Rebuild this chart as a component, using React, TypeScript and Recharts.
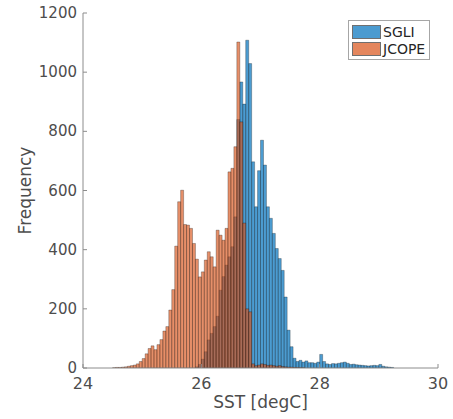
import { Bar, BarChart, Label, Legend, XAxis, YAxis } from "recharts";

// bin centres (degC), 0.05 wide bins
const binCenters = [
  24.525, 24.575, 24.625, 24.675, 24.725, 24.775, 24.825, 24.875, 24.925, 24.975,
  25.025, 25.075, 25.125, 25.175, 25.225, 25.275, 25.325, 25.375, 25.425, 25.475,
  25.525, 25.575, 25.625, 25.675, 25.725, 25.775, 25.825, 25.875, 25.925, 25.975,
  26.025, 26.075, 26.125, 26.175, 26.225, 26.275, 26.325, 26.375, 26.425, 26.475,
  26.525, 26.575, 26.625, 26.675, 26.725, 26.775, 26.825, 26.875, 26.925, 26.975,
  27.025, 27.075, 27.125, 27.175, 27.225, 27.275, 27.325, 27.375, 27.425, 27.475,
  27.525, 27.575, 27.625, 27.675, 27.725, 27.775, 27.825, 27.875, 27.925, 27.975,
  28.025, 28.075, 28.125, 28.175, 28.225, 28.275, 28.325, 28.375, 28.425, 28.475,
  28.525, 28.575, 28.625, 28.675, 28.725, 28.775, 28.825, 28.875, 28.925, 28.975,
  29.025, 29.075, 29.125, 29.175, 29.225,
];

const sgliCounts = [
  null, null, null, null, null, null, null, null, null, null,
  null, null, null, null, null, null, null, null, null, null,
  null, null, null, null, null, null, null, null, 4, 12,
  30, 55, 95, 117, 140, 175, 263, 309, 348, 376,
  410, 511, 840, 967, 892, 1108, 1029, 697, 545, 667,
  770, 686, 545, 506, 455, 404, 370, 330, 240, 128,
  72, 33, 22, 26, 20, 24, 18, 18, 16, 20,
  46, 22, 14, 12, 15, 14, 16, 18, 20, 16,
  12, 13, 11, 10, 9, 8, 7, 8, 9, 8,
  12, 6, 4, 3, 2,
];

const jcopeCounts = [
  1, 2, 2, 3, 4, 6, 8, 10, 14, 22,
  32, 48, 66, 75, 62, 79, 96, 125, 140, 196,
  265, 412, 562, 601, 485, 483, 472, 421, 368, 308,
  325, 365, 393, 376, 342, 466, 449, 432, 472, 663,
  675, 748, 1102, 832, 490, 200, 190, 14, 8, 10,
  14, 12, 9, 10, 8, 6, 8, 5, 4, 3,
  3, 2, 2, 1, 1, null, null, null, null, null,
  null, null, null, null, null, null, null, null, null, null,
  null, null, null, null, null, null, null, null, null, null,
  null, null, null, null, null,
];

const xTicks = [24, 26, 28, 30];
const yTicks = [0, 200, 400, 600, 800, 1000, 1200];

const data = binCenters.map((x, i) => ({ x, sgli: sgliCounts[i], jcope: jcopeCounts[i] }));

const AXIS = "#8c8c8c";
const TEXT = "#4d4d4d";
const FONT = "DejaVu Sans, sans-serif";
const SGLI_COLOR = "#0072bd";
const JCOPE_COLOR = "#d95319";

const LeftTick = ({ x, y, payload }: any) => (
  <g>
    <line x1={x + 6} x2={x + 10} y1={y} y2={y} stroke={AXIS} />
    <text x={x} y={y + 5} textAnchor="end" fill={TEXT} fontSize={15} fontFamily={FONT}>
      {payload.value}
    </text>
  </g>
);

const BottomTick = ({ x, y, payload }: any) => (
  <g>
    <line x1={x} x2={x} y1={y - 9} y2={y - 13} stroke={AXIS} />
    <text x={x} y={y + 12} textAnchor="middle" fill={TEXT} fontSize={16} fontFamily={FONT}>
      {payload.value}
    </text>
  </g>
);

const TopTick = ({ x, y }: any) => <line x1={x} x2={x} y1={y} y2={y + 4} stroke={AXIS} />;
const RightTick = ({ x, y }: any) => <line x1={x} x2={x - 4} y1={y} y2={y} stroke={AXIS} />;

const legendItems = [
  { name: "SGLI", color: SGLI_COLOR },
  { name: "JCOPE", color: JCOPE_COLOR },
];

const HistLegend = () => (
  <div
    style={{
      border: "1px solid #a6a6a6",
      background: "#fff",
      padding: "2px 4px 2px 3px",
      fontFamily: FONT,
      fontSize: 14,
      color: "#262626",
    }}
  >
    {legendItems.map((it) => (
      <div key={it.name} style={{ display: "flex", alignItems: "center", height: 17 }}>
        <span
          style={{
            display: "inline-block",
            width: 29,
            height: 14,
            background: it.color,
            opacity: 0.7,
            border: "1px solid #333",
            marginRight: 2,
            boxSizing: "border-box",
          }}
        />
        {it.name}
      </div>
    ))}
  </div>
);

export default function App() {
  return (
    <div style={{ position: "absolute", left: 0, top: 0, background: "#fff" }}>
      <BarChart
        width={453}
        height={419}
        data={data}
        margin={{ top: 13, right: 15, bottom: 0, left: 0 }}
        barCategoryGap={0}
        barGap={0}
      >
        <XAxis
          xAxisId="b"
          dataKey="x"
          type="number"
          domain={[24, 30]}
          ticks={xTicks}
          allowDataOverflow
          height={51}
          stroke={AXIS}
          tickLine={false}
          tickSize={0}
          tickMargin={9}
          tick={<BottomTick />}
        >
          <Label
            value="SST [degC]"
            position="insideBottom"
            offset={11}
            fill={TEXT}
            fontSize={17}
            fontFamily={FONT}
          />
        </XAxis>
        <XAxis
          xAxisId="t"
          orientation="top"
          dataKey="x"
          type="number"
          domain={[24, 30]}
          ticks={xTicks}
          allowDataOverflow
          height={0}
          stroke={AXIS}
          tickLine={false}
          tickSize={0}
          tickMargin={0}
          tick={<TopTick />}
        />
        <YAxis
          yAxisId="l"
          domain={[0, 1200]}
          ticks={yTicks}
          allowDataOverflow
          width={83}
          stroke={AXIS}
          tickLine={false}
          tickSize={0}
          tickMargin={6}
          tick={<LeftTick />}
        >
          <Label
            content={({ viewBox }: any) => {
              const cy = viewBox.y + viewBox.height / 2;
              return (
                <text
                  x={25}
                  y={cy}
                  transform={`rotate(-90 25 ${cy})`}
                  textAnchor="middle"
                  dominantBaseline="central"
                  fill={TEXT}
                  fontSize={17}
                  fontFamily={FONT}
                >
                  Frequency
                </text>
              );
            }}
          />
        </YAxis>
        <YAxis
          yAxisId="r"
          orientation="right"
          domain={[0, 1200]}
          ticks={yTicks}
          allowDataOverflow
          width={0}
          stroke={AXIS}
          tickLine={false}
          tickSize={0}
          tickMargin={0}
          tick={<RightTick />}
        />
        <Legend
          layout="vertical"
          align="center"
          verticalAlign="middle"
          content={<HistLegend />}
          wrapperStyle={{ top: 20, left: 348, width: "auto" }}
        />
        <Bar
          xAxisId="b"
          yAxisId="l"
          dataKey="sgli"
          name="SGLI"
          fill={SGLI_COLOR}
          fillOpacity={0.7}
          stroke="#000"
          strokeOpacity={0.45}
          strokeWidth={0.6}
          isAnimationActive={false}
        />
        <Bar
          xAxisId="t"
          yAxisId="r"
          dataKey="jcope"
          name="JCOPE"
          fill={JCOPE_COLOR}
          fillOpacity={0.65}
          stroke="#000"
          strokeOpacity={0.45}
          strokeWidth={0.6}
          isAnimationActive={false}
        />
      </BarChart>
    </div>
  );
}
